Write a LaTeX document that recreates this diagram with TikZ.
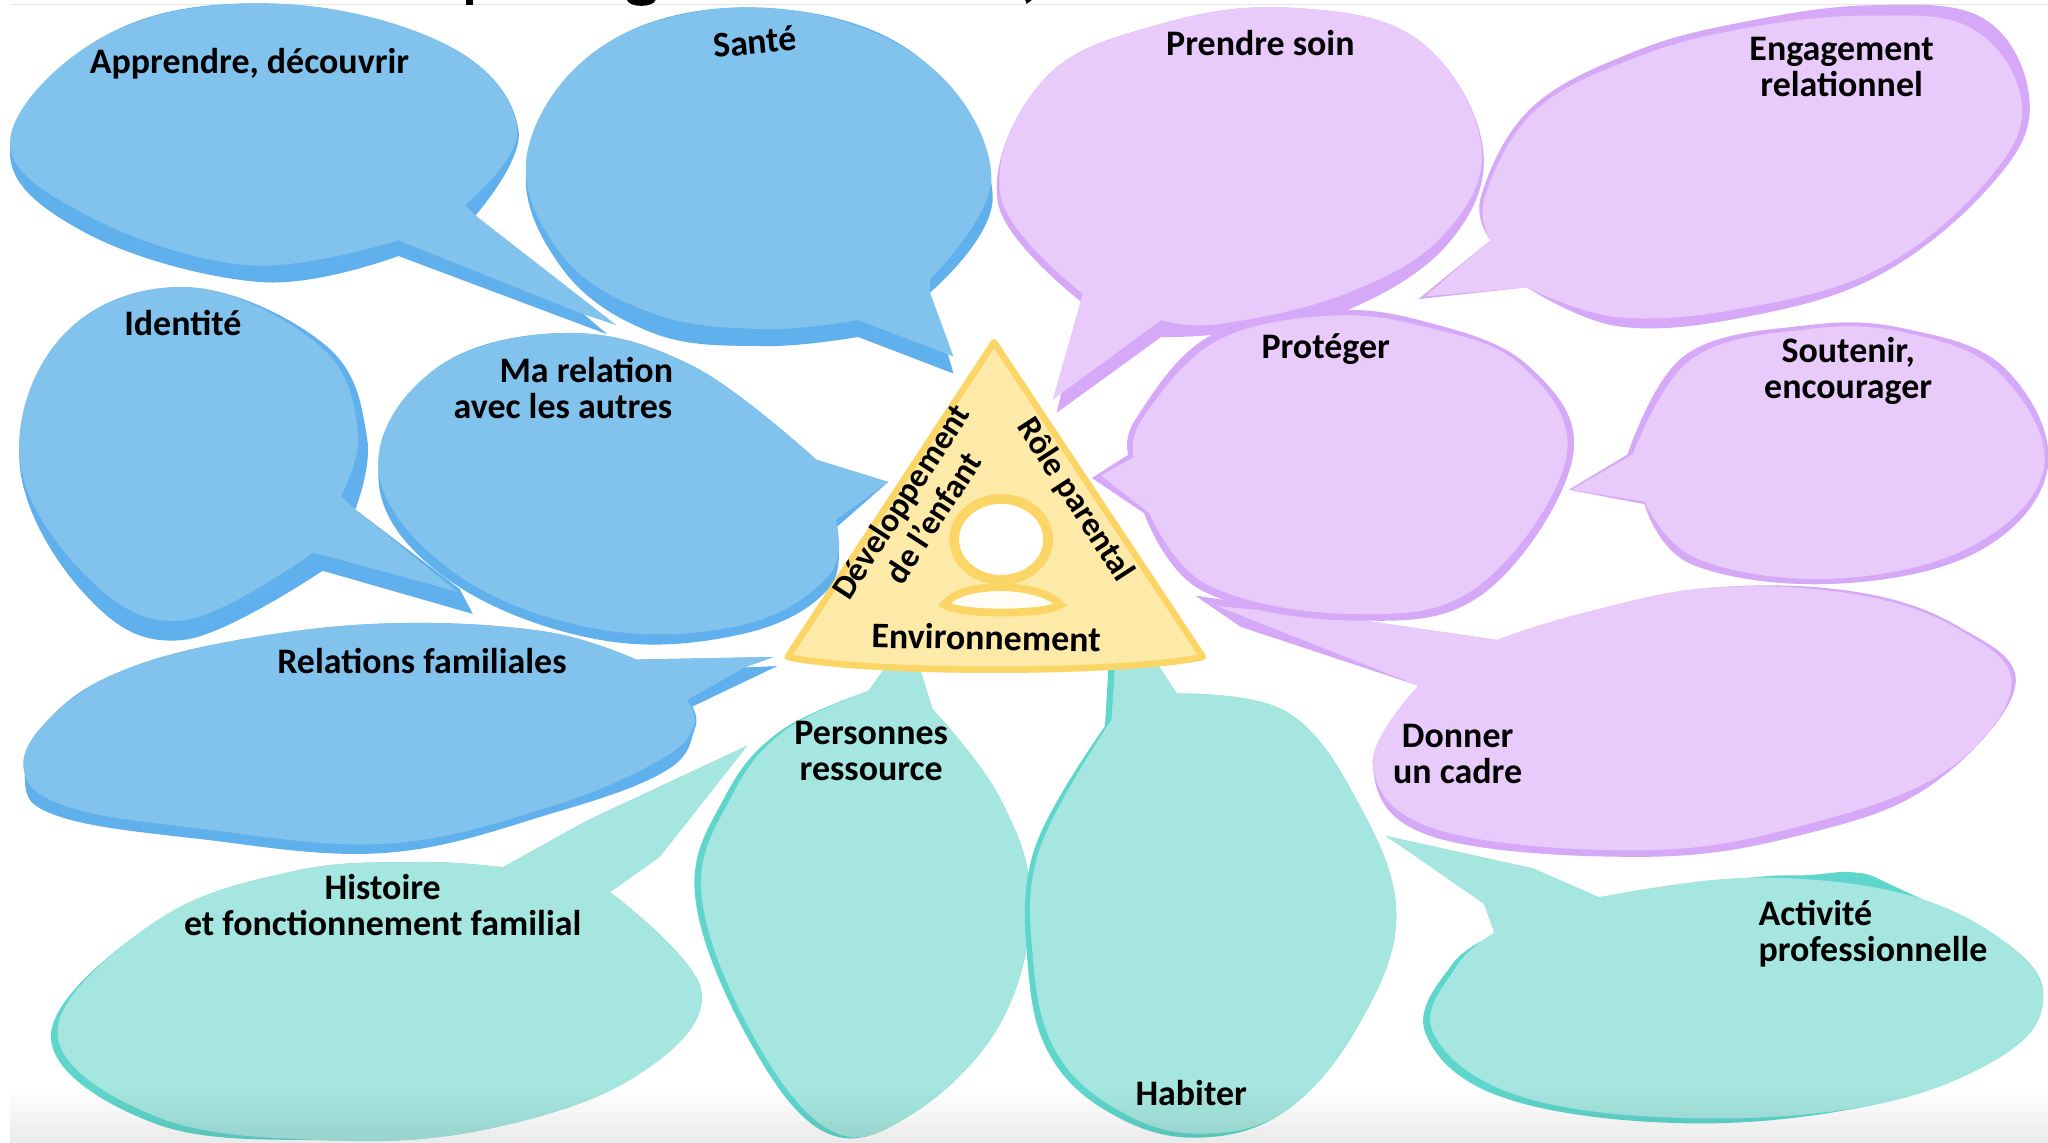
\documentclass[tikz,border=0pt]{standalone}
\usepackage{fontspec}
\setmainfont{Carlito}
\definecolor{bl}{HTML}{82C3EE}\definecolor{bd}{HTML}{5FB0EC}
\definecolor{pl}{HTML}{E8CBFB}\definecolor{pd}{HTML}{D6A8F8}
\definecolor{tl}{HTML}{A6E6E0}\definecolor{td}{HTML}{5FD6CC}
\definecolor{yl}{HTML}{FDE9A8}\definecolor{yd}{HTML}{FBD667}
\tikzset{
 lab/.style={inner sep=0pt,align=center,text=black,font=\fontsize{16.5}{16.5}\selectfont\bfseries},
 tri/.style={inner sep=0pt,align=center,text=black,font=\fontsize{15.5}{16.5}\selectfont\bfseries},
 soft/.style={smooth,tension=0.65},
}
\begin{document}
\begin{tikzpicture}[x=0.6pt,y=-0.6pt]
\useasboundingbox (0,0) rectangle (1568,875);
\fill[white] (0,0) rectangle (1568,875);
\draw[black!10,line width=0.6pt] (8,3.5) -- (1568,3.5);
% title remnants
\fill[black] (357,0) rectangle (362,3.5);
\fill[black] (480,0) .. controls (482,6) and (500,6) .. (502,0) -- cycle;
\fill[black] (785,0) -- (790,0) -- (786,3) -- cycle;
% Apprendre
\fill[bd] plot[soft] coordinates {(364,165)(397,100)(345,36)(215,3)(85,25)(8,112)(65,178)(200,216)(305,196)} -- (465,256) -- (444,238) -- cycle;
\fill[bl] plot[soft] coordinates {(356,157)(396,100)(345,36)(215,3)(85,25)(8,105)(65,164)(190,203)(305,184)} -- (445,240) -- (472,249) -- (364,165) -- cycle;
% Sante
\fill[bd] plot[soft] coordinates {(712,224)(760,150)(705,45)(585,6)(465,33)(404,122)(430,205)(500,255)(585,265)(657,258)} -- (730,286) -- cycle;
\fill[bl] plot[soft] coordinates {(712,214)(759,135)(705,45)(585,6)(465,33)(404,115)(430,195)(500,240)(585,252)(657,245)} -- (730,273) -- (712,224) -- cycle;
% Identite
\fill[bd] plot[soft] coordinates {(272,390)(281,335)(250,265)(145,220)(50,255)(15,355)(65,455)(140,490)(247,437)} -- (362,470) -- (352,451) -- cycle;
\fill[bl] plot[soft] coordinates {(261,380)(274,330)(245,265)(145,220)(50,255)(15,350)(65,440)(140,475)(240,423)} -- (350,453) -- (272,390) -- cycle;
% Relations familiales
\fill[bd] plot[soft] coordinates {(530,541)(532,558)(510,590)(425,622)(295,653)(150,642)(45,625)(19,597)(40,548)(100,511)(200,487)(310,477)(420,484)(487,505)} -- (592,503) -- (570,511) -- (595,510) -- cycle;
\fill[bl] plot[soft] coordinates {(526,536)(531,556)(505,582)(420,618)(295,646)(150,634)(50,617)(18,588)(40,548)(100,511)(200,487)(310,477)(420,484)(487,505)} -- (592,503) -- (570,511) -- cycle;
% Ma relation
\fill[bd] plot[soft] coordinates {(640,404)(635,450)(570,485)(460,490)(345,445)(290,370)(330,285)(430,255)(530,280)(625,352)} -- (680,369) -- cycle;
\fill[bl] plot[soft] coordinates {(640,398)(635,440)(570,478)(460,482)(350,440)(290,362)(330,285)(430,255)(530,280)(625,352)} -- (680,369) -- cycle;
% Histoire
\fill[td] plot[soft] coordinates {(467,683)(537,759)(485,825)(370,865)(250,873)(118,860)(39,793)(120,705)(225,667)(320,660)(385,664)} -- (450,628) -- (572,571) -- (505,656) -- cycle;
\fill[tl] plot[soft] coordinates {(467,683)(537,759)(485,825)(370,865)(250,873)(120,855)(44,790)(120,705)(225,667)(320,660)(385,664)} -- (450,628) -- (572,571) -- (505,656) -- cycle;
% Personnes
\fill[td] plot[soft] coordinates {(714,543)(765,610)(789,690)(765,785)(695,855)(630,866)(570,790)(532,684)(555,610)(597,560)(665,529)} -- (682,505) -- (702,505) -- cycle;
\fill[tl] plot[soft] coordinates {(714,543)(765,610)(789,690)(765,785)(695,855)(635,865)(575,790)(537,684)(560,610)(600,560)(665,529)} -- (682,505) -- (702,505) -- cycle;
% Habiter
\fill[td] plot[soft] coordinates {(901,531)(985,545)(1040,615)(1069,701)(1040,785)(985,850)(919,871)(855,855)(805,810)(787,740)(792,650)(846,556)} -- (849,505) -- (884,505) -- cycle;
\fill[tl] plot[soft] coordinates {(901,531)(985,545)(1040,615)(1069,701)(1040,785)(985,850)(919,868)(858,851)(809,806)(791,735)(796,650)(851,551)} -- (854,505) -- (884,505) -- cycle;
% Activite
\fill[td] plot[soft] coordinates {(1224,687)(1340,672)(1384,670)(1420,668)(1449,678)(1540,725)(1564,768)(1530,810)(1434,846)(1290,860)(1150,840)(1091,790)(1112,738)(1144,716)} -- (1153,712) -- (1144,708) -- (1141,692) -- (1061,640) -- (1174,665) -- cycle;
\fill[tl] plot[soft] coordinates {(1224,687)(1340,672)(1460,685)(1540,725)(1564,768)(1530,810)(1434,846)(1290,856)(1160,838)(1097,790)(1115,740)(1144,714)} -- (1136,692) -- (1061,640) -- (1174,665) -- cycle;
% Donner
\fill[pd] plot[soft] coordinates {(1086,525)(1051,585)(1095,640)(1259,656)(1384,638)(1480,600)(1543,525)(1500,480)(1420,453)(1309,450)(1210,470)(1146,490)} -- (1044,475) -- (915,456) -- (950,480) -- cycle;
\fill[pl] plot[soft] coordinates {(1086,525)(1051,585)(1100,635)(1259,651)(1384,631)(1490,590)(1540,525)(1500,482)(1420,455)(1309,450)(1210,470)(1146,490)} -- (1044,475) -- (932,464) -- cycle;
% Prendre soin
\fill[pd] plot[soft] coordinates {(829,232)(764,155)(800,60)(890,18)(989,6)(1085,30)(1135,111)(1110,185)(1030,238)(940,255)(889,258)} -- (809,316) -- cycle;
\fill[pl] plot[soft] coordinates {(829,225)(766,150)(800,60)(890,18)(989,6)(1085,30)(1134,111)(1105,180)(1030,225)(934,248)(889,245)} -- (806,306) -- cycle;
% Engagement
\fill[pd] plot[soft] coordinates {(1141,184)(1134,150)(1172,83)(1250,40)(1334,17)(1434,4)(1520,15)(1554,80)(1524,142)(1440,210)(1340,242)(1240,250)(1169,220)} -- (1086,229) -- cycle;
\fill[pl] plot[soft] coordinates {(1141,184)(1137,150)(1175,85)(1250,45)(1334,22)(1430,12)(1510,22)(1548,80)(1520,140)(1440,205)(1340,235)(1240,243)(1169,220)} -- (1091,227) -- cycle;
% Protege
\fill[pd] plot[soft] coordinates {(876,393)(920,452)(1034,475)(1135,455)(1204,351)(1170,280)(1090,246)(1014,238)(925,258)(870,320)(864,348)} -- (836,366) -- cycle;
\fill[pl] plot[soft] coordinates {(880,393)(925,448)(1034,470)(1130,450)(1199,351)(1165,280)(1090,250)(1014,242)(930,262)(875,320)(868,350)} -- (843,364) -- cycle;
% Soutenir
\fill[pd] plot[soft] coordinates {(1259,386)(1295,432)(1404,447)(1515,422)(1568,357)(1535,282)(1460,252)(1384,249)(1290,272)(1246,348)} -- (1201,375) -- cycle;
\fill[pl] plot[soft] coordinates {(1259,384)(1300,428)(1404,443)(1510,418)(1565,357)(1530,285)(1460,255)(1384,252)(1295,275)(1250,348)} -- (1203,375) -- cycle;
% Triangle
\coordinate (ta) at (761,262);\coordinate (tl) at (603,503);\coordinate (tr) at (921,503);
\draw[yd,fill=yl,line width=3pt,line join=round] (ta) -- (tr) .. controls (860,516) and (662,516) .. (tl) -- cycle;
\draw[yd,fill=white,line width=4.5pt] (766.5,413) ellipse [x radius=36,y radius=31];
\draw[yd,fill=white!90!yl,line width=3.6pt] (723,463) .. controls (735,445) and (795,445) .. (812,463) .. controls (800,471) and (735,471) .. (723,463) -- cycle;
% Labels
\node[lab] (n1) at (191,49) {Apprendre, découvrir};
\node[lab,rotate=5] (n2) at (578,32) {Santé};
\node[lab] (n3) at (140,247) {Identité};
\node[lab] (n4) at (431,297) {\hspace*{1.3em}Ma relation\\avec les autres};
\node[lab] (n5) at (323,506) {Relations familiales};
\node[lab] (n6) at (965,33) {Prendre soin};
\node[lab] (n7) at (1410,51) {Engagement\\relationnel};
\node[lab] (n8) at (1015,267) {Protéger};
\node[lab] (n9) at (1415,284) {Soutenir,\\encourager};
\node[lab] (n10) at (1116,577) {Donner\\un cadre};
\node[lab] (n11) at (667,575) {Personnes\\ressource};
\node[lab] (n12) at (293,693) {Histoire\\et fonctionnement familial};
\node[lab] (n13) at (912,837) {Habiter};
\node[lab,align=left] (n14) at (1434,715) {Activité\\professionnelle};
\node[tri,rotate=57] (n15) at (691,385) {Développement};
\node[tri,rotate=57] (n16) at (714,396) {de l’enfant};
\node[tri,rotate=-57] (n17) at (823,383) {Rôle parental};
\node[lab,rotate=-1] (n18) at (755,488) {Environnement};
% bottom shading
\foreach \i in {0,...,9}{
  \pgfmathsetmacro{\yy}{835+4*\i}
  \pgfmathsetmacro{\oo}{0.008*(\i+1)}
  \fill[black,opacity=\oo] (8,\yy) rectangle (1568,\yy+4);
}
\end{tikzpicture}
\end{document}
